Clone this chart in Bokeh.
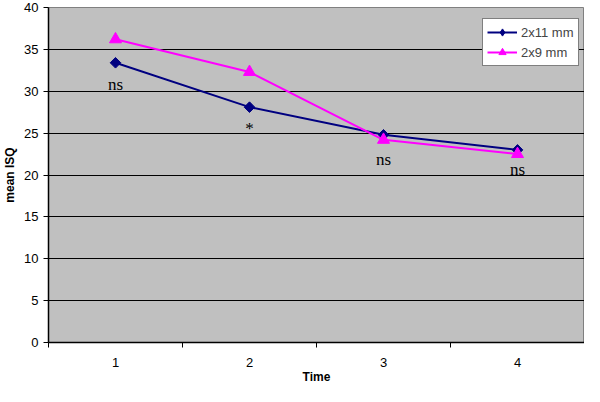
import math
from bokeh.plotting import figure
from bokeh.models import FixedTicker, Range1d, Legend, LegendItem
from bokeh.core.properties import value
from bokeh.embed import file_html
from bokeh.resources import INLINE

times = [1, 2, 3, 4]
s_2x11 = [33.4, 28.1, 24.8, 23.0]
s_2x9 = [36.2, 32.3, 24.2, 22.5]
ann_x = [1, 2, 3, 4]
ann_y = [30.8, 25.6, 21.9, 20.7]
ann_text = ["ns", "*", "ns", "ns"]

p = figure(width=584, height=386, output_backend="svg", toolbar_location=None,
           x_range=Range1d(0.5, 4.5), y_range=Range1d(0, 40),
           min_border_left=48, min_border_right=0, min_border_top=7, min_border_bottom=41)
p.background_fill_color = "#C0C0C0"
p.border_fill_color = "white"
p.outline_line_color = "#808080"

p.xgrid.grid_line_color = None
p.ygrid.grid_line_color = "black"
p.ygrid.grid_line_width = 1
p.yaxis.ticker = FixedTicker(ticks=list(range(0, 41, 5)))
p.xaxis.ticker = FixedTicker(ticks=times, minor_ticks=[0.5, 1.5, 2.5, 3.5, 4.5])

for ax in (p.xaxis[0], p.yaxis[0]):
    ax.axis_line_color = "black"
    ax.axis_line_width = 1.5
    ax.major_label_text_font = "Liberation Sans"
    ax.major_label_text_font_size = "13px"
    ax.major_label_text_color = "black"
    ax.axis_label_text_font = "Liberation Sans"
    ax.axis_label_text_font_style = "bold"
    ax.axis_label_text_font_size = "12px"
    ax.axis_label_text_color = "black"

p.yaxis.major_tick_out = 5
p.yaxis.major_tick_in = 0
p.yaxis.minor_tick_line_color = None
p.yaxis.major_tick_line_color = "black"
p.yaxis.axis_label = "mean ISQ"
p.yaxis.axis_label_standoff = 4

p.xaxis.major_tick_out = 0
p.xaxis.major_tick_in = 0
p.xaxis.minor_tick_out = 5
p.xaxis.minor_tick_in = 0
p.xaxis.minor_tick_line_color = "black"
p.xaxis.major_label_standoff = 10
p.xaxis.axis_label = "Time"
p.xaxis.axis_label_standoff = 0

l1 = p.line(times, s_2x11, line_color="#000080", line_width=2)
p.scatter(times, s_2x11, marker="square", angle=math.pi / 4, size=7.5,
          fill_color="#000080", line_color="#000080")
m1 = p.scatter([float("nan")], [float("nan")], marker="diamond", size=11,
               fill_color="#000080", line_color="#000080")
l2 = p.line(times, s_2x9, line_color="#FF00FF", line_width=2)
m2 = p.scatter(times, s_2x9, marker="triangle", size=12, fill_color="#FF00FF", line_color="#FF00FF")

p.text(ann_x, ann_y, text=ann_text, text_font=value("Liberation Serif"), text_font_size="17px",
       text_align="center", text_baseline="middle", text_color="black")

legend = Legend(items=[LegendItem(label="2x11 mm", renderers=[l1, m1]),
                       LegendItem(label="2x9 mm", renderers=[l2, m2])],
                location=(434, 276))
legend.background_fill_color = "white"
legend.background_fill_alpha = 1
legend.border_line_color = "black"
legend.label_text_font = "Liberation Sans"
legend.label_text_font_size = "13px"
legend.glyph_width = 30
legend.glyph_height = 18
legend.spacing = 2
legend.padding = 4
legend.margin = 0
legend.label_standoff = 4
p.add_layout(legend, "center")

open("out.html", "w").write(file_html(p, INLINE))
